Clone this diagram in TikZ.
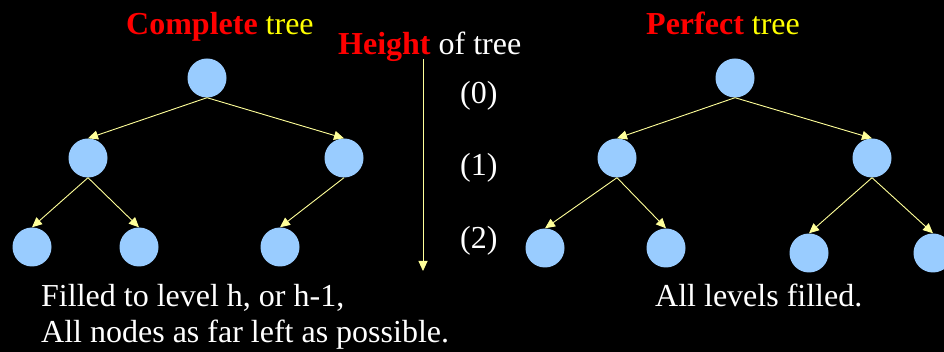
\documentclass[tikz,border=0pt]{standalone}
\usepackage{fontspec}
\setmainfont{Liberation Serif}
\usepackage{xcolor}
\definecolor{nodeblue}{HTML}{99CCFF}
\definecolor{linkyellow}{HTML}{FFFF99}
\definecolor{titlered}{HTML}{FF0000}
\definecolor{titleyellow}{HTML}{FFFF00}
\usetikzlibrary{arrows.meta, positioning}

\begin{document}
\begin{tikzpicture}[x=1pt, y=-1pt,
  vertex/.style={circle, fill=nodeblue, minimum size=39pt, inner sep=0pt},
  link/.style={draw=linkyellow, line width=0.9pt, -{Triangle[length=10pt, width=9pt]}},
  txt/.style={anchor=base west, inner sep=0pt, text=white,
    font=\fontsize{32}{35}\selectfont}
]
  \fill[black] (0,0) rectangle (944,352);
  \useasboundingbox (0,0) rectangle (944,352);

  % Complete tree
  \node[txt] (ctitle) at (126,35) {\textcolor{titlered}{\bfseries Complete} \textcolor{titleyellow}{tree}};
  \node[vertex] (croot) at (207,78) {};
  \node[vertex] (cl) at (88,158) {};
  \node[vertex] (cr) at (344,158) {};
  \node[vertex] (cll) at (32,247) {};
  \node[vertex] (clr) at (139,247) {};
  \node[vertex] (crl) at (280,247) {};

  \draw[link] (croot.south) -- (cl.north);
  \draw[link] (croot.south) -- (cr.north);
  \draw[link] (cl.south) -- (cll.north);
  \draw[link] (cl.south) -- (clr.north);
  \draw[link] (cr.south) -- (crl.north);

  \node[txt] (cnote1) at (41,307) {Filled to level h, or h-1,};
  \node[txt] (cnote2) at (41,342) {All nodes as far left as possible.};

  % Height of tree
  \node[txt] (htitle) at (338,55) {\textcolor{titlered}{\bfseries Height} of tree};
  \coordinate (htop) at (423,59);
  \coordinate (hbot) at (423,271);
  \draw[link] (htop) -- (hbot);
  \node[txt] (h0) at (460,104) {(0)};
  \node[txt] (h1) at (460,176) {(1)};
  \node[txt] (h2) at (460,249) {(2)};

  % Perfect tree
  \node[txt] (ptitle) at (646,35) {\textcolor{titlered}{\bfseries Perfect} \textcolor{titleyellow}{tree}};
  \node[vertex] (proot) at (735,78) {};
  \node[vertex] (pl) at (617,158) {};
  \node[vertex] (pr) at (872,158) {};
  \node[vertex] (pll) at (545,248) {};
  \node[vertex] (plr) at (666,248) {};
  \node[vertex] (prl) at (809,253) {};
  \node[vertex] (prr) at (933,253) {};

  \draw[link] (proot.south) -- (pl.north);
  \draw[link] (proot.south) -- (pr.north);
  \draw[link] (pl.south) -- (pll.north);
  \draw[link] (pl.south) -- (plr.north);
  \draw[link] (pr.south) -- (prl.north);
  \draw[link] (pr.south) -- (prr.north);

  \node[txt] (pnote) at (655,307) {All levels filled.};
\end{tikzpicture}
\end{document}
